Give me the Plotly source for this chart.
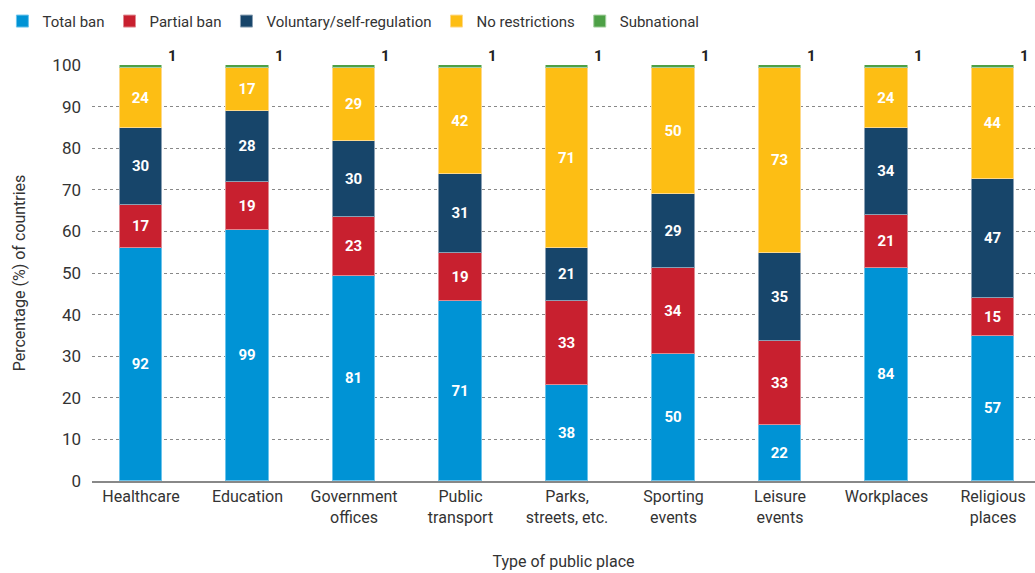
import plotly.graph_objects as go

places = ["Healthcare", "Education", "Government<br>offices", "Public<br>transport",
          "Parks,<br>streets, etc.", "Sporting<br>events", "Leisure<br>events",
          "Workplaces", "Religious<br>places"]

# Number of countries in each category of restriction
total_ban = [92, 99, 81, 71, 38, 50, 22, 84, 57]
partial_ban = [17, 19, 23, 19, 33, 34, 33, 21, 15]
voluntary = [30, 28, 30, 31, 21, 29, 35, 34, 47]
no_restrictions = [24, 17, 29, 42, 71, 50, 73, 24, 44]
subnational = [1, 1, 1, 1, 1, 1, 1, 1, 1]

series = [
    ("Total ban", total_ban, "#0093d5", "#6cc4ec"),
    ("Partial ban", partial_ban, "#c8202f", "#e08a92"),
    ("Voluntary/self-regulation", voluntary, "#17456a", "#8aa0b4"),
    ("No restrictions", no_restrictions, "#fdbe14", "#fed98a"),
    ("Subnational", subnational, "#4da046", "#a6d0a2"),
]

totals = [sum(v) for v in zip(total_ban, partial_ban, voluntary, no_restrictions, subnational)]

FONT = "Roboto, Liberation Sans, sans-serif"

fig = go.Figure()
for name, counts, color, edge in series:
    pct = [c / t * 100 for c, t in zip(counts, totals)]
    show_text = name != "Subnational"
    fig.add_trace(go.Bar(
        name=name,
        x=list(range(len(places))),
        y=pct,
        width=0.4,
        marker=dict(color=color, line=dict(color=edge, width=1)),
        text=[str(c) for c in counts] if show_text else None,
        textposition="inside" if show_text else "none",
        insidetextanchor="middle",
        textangle=0,
        constraintext="none",
        textfont=dict(family=FONT, size=15, color="white", weight="bold"),
        hoverinfo="name+y",
    ))

# Subnational counts written beside the top of each bar
for i, c in enumerate(subnational):
    fig.add_annotation(x=i + 0.3, y=100, text=str(c), showarrow=False,
                       xanchor="center", yanchor="bottom", yshift=-2,
                       font=dict(family=FONT, size=15, color="#222", weight="bold"))

fig.update_layout(
    barmode="stack",
    width=1035, height=573,
    margin=dict(l=92, r=0, t=65, b=92, autoexpand=False),
    plot_bgcolor="white", paper_bgcolor="white",
    font=dict(family=FONT, size=15, color="#333"),
    bargap=0,
    legend=dict(orientation="h", x=-0.095, xanchor="left", y=1.105, yanchor="middle",
                font=dict(family=FONT, size=15, color="#333"),
                itemwidth=30, traceorder="normal"),
    xaxis=dict(
        tickmode="array", tickvals=list(range(len(places))), ticktext=places,
        range=[-0.46, 8.394], showgrid=False, showline=True,
        linecolor="#888", linewidth=1.5, ticks="",
        tickfont=dict(family=FONT, size=16, color="#333"),
        title=dict(text="Type of public place", standoff=30,
                   font=dict(family=FONT, size=16, color="#333")),
    ),
    yaxis=dict(
        range=[0, 100], dtick=10, showgrid=True, gridcolor="#888",
        griddash="dot", gridwidth=1, zeroline=False, ticks="",
        ticklabelstandoff=10,
        tickfont=dict(family=FONT, size=17, color="#333"),
        title=dict(text="Percentage (%) of countries", standoff=22,
                   font=dict(family=FONT, size=16, color="#333")),
    ),
)

fig.write_html("out.html")
